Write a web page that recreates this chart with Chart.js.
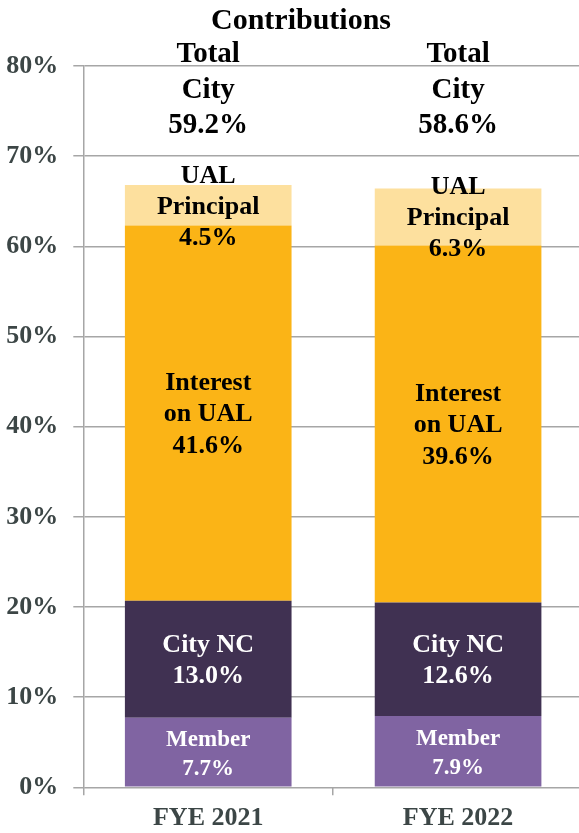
<!DOCTYPE html>
<html>
<head>
<meta charset="utf-8">
<script src="https://cdn.jsdelivr.net/npm/chart.js@4.4.1/dist/chart.umd.min.js"></script>
<style>
    html, body { margin: 0; padding: 0; background: #fff; overflow: hidden; }
    #wrap { position: relative; width: 590px; height: 833px; }
</style>
</head>
<body>
<div id="wrap"><canvas id="contribChart"></canvas></div>
<script>
// Datos
const categorias = ['FYE 2021', 'FYE 2022'];
const member = [7.7, 7.9];
const cityNC = [13.0, 12.6];
const interesUAL = [41.6, 39.6];
const principalUAL = [4.5, 6.3];
const totalCity = [59.2, 58.6];
const ticksY = [0, 10, 20, 30, 40, 50, 60, 70, 80];

const SERIF = '"Liberation Serif", "Times New Roman", serif';

// Etiquetas dentro de cada segmento
const etiquetas = [
    { lineas: ['Member'], color: '#ffffff', size: 23, paso: 29 },
    { lineas: ['City NC'], color: '#ffffff', size: 26, paso: 31 },
    { lineas: ['Interest', 'on UAL'], color: '#000000', size: 26, paso: 31.5 },
    { lineas: ['UAL', 'Principal'], color: '#000000', size: 26, paso: 31 }
];

const pct = v => v.toFixed(1) + '%';

const textoPlugin = {
    id: 'textoPlugin',
    afterDatasetsDraw(chart) {
        const ctx = chart.ctx;
        const x = chart.scales.x;
        const y = chart.scales.y;
        ctx.save();
        ctx.textAlign = 'center';
        ctx.textBaseline = 'middle';

        chart.data.datasets.forEach((ds, di) => {
            const et = etiquetas[di];
            const meta = chart.getDatasetMeta(di);
            meta.data.forEach((bar, i) => {
                if (ds.data[i] == null) return;
                let base = 0;
                for (let k = 0; k < di; k++) base += chart.data.datasets[k].data[i];
                const mid = y.getPixelForValue(base + ds.data[i] / 2) + 1.5;
                const lineas = [...et.lineas, pct(ds.data[i])];
                const y0 = mid - (lineas.length - 1) * et.paso / 2;
                ctx.fillStyle = et.color;
                ctx.font = `bold ${et.size}px ${SERIF}`;
                lineas.forEach((t, j) => ctx.fillText(t, bar.x, y0 + j * et.paso));
            });
        });

        // Total City arriba de cada barra
        ctx.fillStyle = '#000';
        ctx.font = `bold 29px ${SERIF}`;
        totalCity.forEach((v, i) => {
            const cx = x.getPixelForValue(i);
            const mid = y.getPixelForValue(77.3);
            ['Total', 'City', pct(v)].forEach((t, j) => ctx.fillText(t, cx, mid + (j - 1) * 35.5));
        });

        // Titulo
        ctx.font = `bold 30px ${SERIF}`;
        ctx.fillText('Contributions', 301, 21);
        ctx.restore();
    }
};

const ctx = document.getElementById('contribChart').getContext('2d');

new Chart(ctx, {
    type: 'bar',
    data: {
        labels: categorias,
        datasets: [
            { label: 'Member', data: member, backgroundColor: '#8064a2' },
            { label: 'City NC', data: cityNC, backgroundColor: '#403152' },
            { label: 'Interest on UAL', data: interesUAL, backgroundColor: '#fbb416' },
            { label: 'UAL Principal', data: principalUAL, backgroundColor: '#fde09e' }
        ]
    },
    options: {
        responsive: true,
        maintainAspectRatio: false,
        animation: false,
        categoryPercentage: 1,
        barPercentage: 0.667,
        layout: { padding: { top: 66, right: 7, left: 0, bottom: 0 } },
        plugins: {
            legend: { display: false },
            tooltip: { enabled: false }
        },
        scales: {
            x: {
                stacked: true,
                grid: {
                    offset: true,
                    drawOnChartArea: false,
                    drawTicks: true,
                    tickLength: 8,
                    lineWidth: 1.5,
                    color: '#a6a6a6'
                },
                border: { display: false },
                ticks: {
                    padding: 7,
                    color: '#3c4646',
                    font: { family: SERIF, size: 26, weight: 'bold' }
                },
                afterFit: s => { s.height = 45.7; }
            },
            y: {
                stacked: true,
                min: 0,
                max: 80,
                afterBuildTicks: s => { s.ticks = ticksY.map(v => ({ value: v })); },
                grid: { color: '#a6a6a6', lineWidth: 1.5, tickLength: 10 },
                border: { color: '#a6a6a6', width: 1.5 },
                ticks: {
                    padding: 15,
                    color: '#3c4646',
                    font: { family: SERIF, size: 26, weight: 'bold' },
                    callback: v => v + '%'
                },
                afterFit: s => { s.width = 83.3; }
            }
        }
    },
    plugins: [textoPlugin]
});
</script>
</body>
</html>
